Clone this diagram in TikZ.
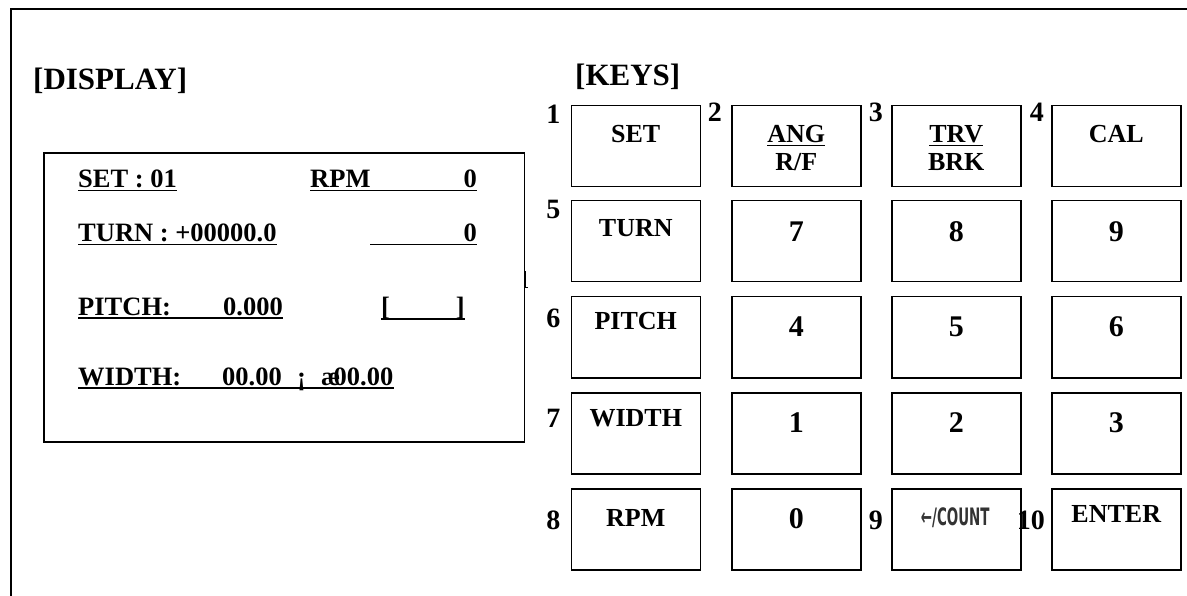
\documentclass[tikz,border=0pt]{standalone}
\usepackage{fontspec}
\setmainfont{Liberation Serif}
\newfontfamily\cntfont{DejaVu Sans}[FakeStretch=0.56]
\usetikzlibrary{calc}
\begin{document}
\begin{tikzpicture}[x=1pt,y=-1pt,
  frame/.style={line width=2pt},
  dispbox/.style={draw,line width=1.5pt},
  dtxt/.style={anchor=base west,inner sep=0pt,font=\bfseries\fontsize{26.5}{26.5}\selectfont},
  uline/.style={line width=1.6pt},
  keybox/.style={draw,line width=1.5pt,minimum width=129pt,minimum height=81pt,inner sep=0pt,anchor=north west},
  keytxt/.style={anchor=base,inner sep=0pt,font=\bfseries\fontsize{26}{26}\selectfont},
  keydig/.style={anchor=base,inner sep=0pt,font=\bfseries\fontsize{30}{30}\selectfont},
  knum/.style={anchor=base east,inner sep=0pt,font=\bfseries\fontsize{28}{28}\selectfont},
  head/.style={anchor=base west,inner sep=0pt,font=\bfseries\fontsize{31}{31}\selectfont}]
\useasboundingbox (0,0) rectangle (1187,596);
% outer frame (top and left edges)
\coordinate (ftr) at (1187,9);
\coordinate (ftl) at (11,9);
\coordinate (fbl) at (11,596);
\draw[frame] (ftr) -- (ftl) -- (fbl);
% headers
\node[head] (hdisp) at (33,90) {[DISPLAY]};
\node[head] (hkeys) at (575,86) {[KEYS]};
% display box
\node[dispbox,minimum width=480.5pt,minimum height=288.5pt,anchor=north west,inner sep=0pt] (disp) at (43,152.5) {};
% stray mark at display edge
\coordinate (sm1) at (525.5,271);
\coordinate (sm2) at (525.5,288);
\coordinate (sm3) at (528,288);
\draw[line width=1pt] (sm1) -- (sm2) -- (sm3);
% row 1
\node[dtxt] (s1) at (78,188) {SET : 01};
\draw[uline] ($(s1.base west)+(0,2.5)$) -- ($(s1.base east)+(0,2.5)$);
\node[dtxt] (rpm) at (310,188) {RPM};
\node[dtxt,anchor=base east] (r0) at (477,188) {0};
\draw[uline] ($(rpm.base west)+(0,2.5)$) -- ($(r0.base east)+(0,2.5)$);
% row 2
\node[dtxt] (t1) at (78,242) {TURN : +00000.0};
\draw[uline] ($(t1.base west)+(0,2.5)$) -- ($(t1.base east)+(0,2.5)$);
\node[dtxt,anchor=base east] (t0) at (477,242) {0};
\coordinate (t0l) at (370,244.5);
\draw[uline] (t0l) -- ($(t0.base east)+(0,2.5)$);
% row 3
\node[dtxt] (p1) at (78,316) {PITCH:};
\node[dtxt,anchor=base east] (p2) at (283,316) {0.000};
\draw[uline] ($(p1.base west)+(0,2)$) -- ($(p2.base east)+(0,2)$);
\node[dtxt] (pb1) at (381,316) {[};
\node[dtxt,anchor=base east] (pb2) at (465,316) {]};
\draw[uline] ($(pb1.base west)+(0,3)$) -- ($(pb2.base east)+(0,3)$);
% row 4
\node[dtxt] (w1) at (78,385) {WIDTH:};
\node[dtxt] (w2) at (222,385) {00.00};
\node[dtxt] (w3) at (297,385) {¡};
\node[dtxt] (w4) at (321,385) {æ\kern-0.25em00.00};
\draw[uline] ($(w1.base west)+(0,3)$) -- ($(w4.base east)+(0,3)$);
% keys
\foreach \r/\ty in {1/105,2/200,3/296,4/392,5/488}{
  \foreach \c/\tx in {1/570.5,2/731,3/891,4/1051}{
    \node[keybox] (k\r\c) at (\tx,\ty) {};
  }
}
% key numbers
\node[knum] (n1) at ($(k11.north west)+(-10,19)$) {1};
\node[knum] (n2) at ($(k12.north west)+(-9,17)$) {2};
\node[knum] (n3) at ($(k13.north west)+(-8,17)$) {3};
\node[knum] (n4) at ($(k14.north west)+(-7,17)$) {4};
\node[knum] (n5) at ($(k21.north west)+(-10,19)$) {5};
\node[knum] (n6) at ($(k31.north west)+(-10,31)$) {6};
\node[knum] (n7) at ($(k41.north west)+(-10,35)$) {7};
\node[knum] (n8) at ($(k51.north west)+(-10,41)$) {8};
\node[knum] (n9) at ($(k53.north west)+(-8,41)$) {9};
\node[knum] (n10) at ($(k54.north west)+(-6,41)$) {10};
% row 1 labels
\node[keytxt] (lset) at ($(k11.north)+(0,38)$) {SET};
\node[keytxt] (lang) at ($(k12.north)+(0,38)$) {ANG};
\draw[line width=1.4pt] ($(lang.base west)+(0,2.5)$) -- ($(lang.base east)+(0,2.5)$);
\node[keytxt] (lrf) at ($(k12.north)+(0,66)$) {R/F};
\node[keytxt] (ltrv) at ($(k13.north)+(0,38)$) {TRV};
\draw[line width=1.4pt] ($(ltrv.base west)+(0,2.5)$) -- ($(ltrv.base east)+(0,2.5)$);
\node[keytxt] (lbrk) at ($(k13.north)+(0,66)$) {BRK};
\node[keytxt] (lcal) at ($(k14.north)+(0,38)$) {CAL};
% row 2
\node[keytxt] (lturn) at ($(k21.north)+(0,37)$) {TURN};
\node[keydig] (d7) at ($(k22.north)+(0,42)$) {7};
\node[keydig] (d8) at ($(k23.north)+(0,42)$) {8};
\node[keydig] (d9) at ($(k24.north)+(0,42)$) {9};
% row 3
\node[keytxt] (lpitch) at ($(k31.north)+(0,34)$) {PITCH};
\node[keydig] (d4) at ($(k32.north)+(0,41)$) {4};
\node[keydig] (d5) at ($(k33.north)+(0,41)$) {5};
\node[keydig] (d6) at ($(k34.north)+(0,41)$) {6};
% row 4
\node[keytxt] (lwidth) at ($(k41.north)+(0,34)$) {WIDTH};
\node[keydig] (d1) at ($(k42.north)+(0,40)$) {1};
\node[keydig] (d2) at ($(k43.north)+(0,40)$) {2};
\node[keydig] (d3) at ($(k44.north)+(0,40)$) {3};
% row 5
\node[keytxt] (lrpm) at ($(k51.north)+(0,38)$) {RPM};
\node[keydig] (d0) at ($(k52.north)+(0,40)$) {0};
\node[anchor=base,inner sep=0pt,text=black!80,font=\cntfont\bfseries\fontsize{24}{24}\selectfont] (lcount) at ($(k53.north)+(-1,37)$) {←/COUNT};
\node[keytxt] (lenter) at ($(k54.north)+(0,34)$) {ENTER};
\end{tikzpicture}
\end{document}
